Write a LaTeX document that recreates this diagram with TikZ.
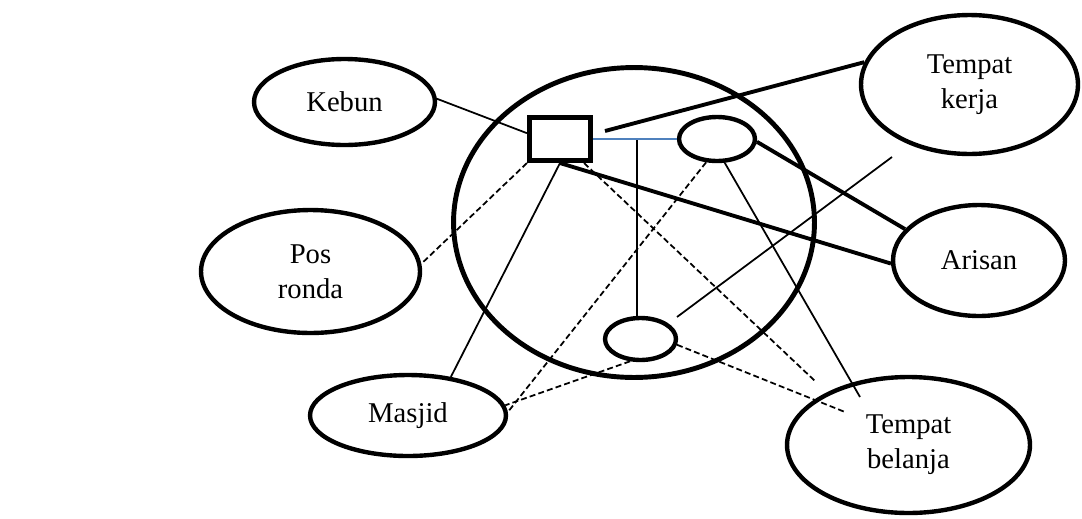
\documentclass[tikz,border=0pt]{standalone}
\usepackage{fontspec}
\setmainfont{Liberation Serif}
\usetikzlibrary{shapes.geometric}
\definecolor{bluec}{HTML}{4F81BD}
\begin{document}
\begin{tikzpicture}[x=0.02cm,y=-0.02cm,
  ell/.style={ellipse,draw,line width=2.5pt,inner sep=0pt,align=center,font=\fontsize{16.3}{20}\selectfont},
  thinc/.style={line width=1pt},
  thickc/.style={line width=2.2pt},
  dashc/.style={line width=1pt,dash pattern=on 3.4pt off 1.8pt}]
\useasboundingbox (0,0) rectangle (1082,518);
\node[ellipse,draw,line width=2.8pt,minimum width=7.22cm,minimum height=6.2cm,inner sep=0pt] (big) at (634,222.5) {};
\node[ell,minimum width=3.62cm,minimum height=1.72cm] (kebun) at (344.5,102) {Kebun};
\node[ell,minimum width=4.34cm,minimum height=2.78cm] (kerja) at (969.5,84.5) {Tempat\\kerja};
\node[ell,minimum width=3.44cm,minimum height=2.22cm] (arisan) at (979,260.5) {Arisan};
\node[ell,minimum width=4.38cm,minimum height=2.46cm] (pos) at (310.5,271.5) {Pos\\ronda};
\node[ell,minimum width=3.92cm,minimum height=1.62cm] (masjid) at (408,415.5) {Masjid};
\node[ell,minimum width=4.86cm,minimum height=2.72cm] (belanja) at (908.5,445) {Tempat\\belanja};
\node[ell,minimum width=1.52cm,minimum height=0.88cm] (sa) at (717,139) {};
\node[ell,minimum width=1.42cm,minimum height=0.84cm] (sb) at (640.5,339) {};
\node[draw,line width=2.9pt,minimum width=1.22cm,minimum height=0.86cm,inner sep=0pt] (rect) at (560,139) {};
\coordinate (kj) at (605,131);
\coordinate (rb) at (815,381);
\coordinate (bl1) at (860,397);
\coordinate (sbo) at (677,317);
\coordinate (ka) at (892,157);
\coordinate (bl2) at (845,412);
\coordinate (jn) at (637,140);
\draw[thinc] (kebun.2) -- (rect.170);
\draw[thickc] (kj) -- (kerja.168);
\draw[thinc,draw=bluec] (rect.east) -- (sa.west);
\draw[thinc] (jn) -- (jn |- sb.north);
\draw[thickc] (rect.south) -- (arisan.182);
\draw[thinc] (rect.south) -- (masjid.42);
\draw[dashc] (rect.south west) -- (pos.4);
\draw[dashc] (rect.-45) -- (rb);
\draw[thickc] (sa.-4) -- (arisan.157);
\draw[dashc] (sa.-115) -- (masjid.2);
\draw[thinc] (sa.-72) -- (bl1);
\draw[thinc] (sbo) -- (ka);
\draw[dashc] (sb.-9) -- (bl2);
\draw[dashc] (sb.-115) -- (masjid.6);
\end{tikzpicture}
\end{document}
